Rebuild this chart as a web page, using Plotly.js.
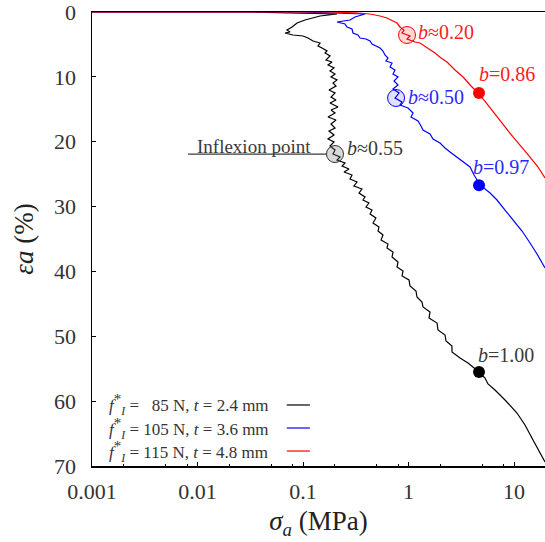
<!DOCTYPE html>
<html>
<head>
<meta charset="utf-8">
<script src="https://cdn.plot.ly/plotly-3.0.1.min.js"></script>
<style>html,body{margin:0;padding:0;background:#fff;}#chart{width:545px;height:542px;}</style>
</head>
<body>
<div id="chart"></div>
<script>
// ---- data ----
const sigmaBlack = [0.001, 0.03, 0.2101, 0.145, 0.1045, 0.0878, 0.0787, 0.0705, 0.0753, 0.0675, 0.0804, 0.1000, 0.1115, 0.1245, 0.1450, 0.1387, 0.1514, 0.1688, 0.1617, 0.1803, 0.1650, 0.1884, 0.1726, 0.1967, 0.1803, 0.2011, 0.1843, 0.2101, 0.1924, 0.2055, 0.1764, 0.2011, 0.1843, 0.2055, 0.1803, 0.2148, 0.1843, 0.2011, 0.1726, 0.2055, 0.1843, 0.2011, 0.1764, 0.1967, 0.1726, 0.1967, 0.1803, 0.2011, 0.1924, 0.2244, 0.2101, 0.2501, 0.2344, 0.2729, 0.2448, 0.2913, 0.2789, 0.325, 0.304, 0.362, 0.339, 0.387, 0.370, 0.422, 0.395, 0.451, 0.432, 0.491, 0.461, 0.525, 0.514, 0.573, 0.549, 0.639, 0.625, 0.713, 0.698, 0.795, 0.778, 0.887, 0.868, 1.011, 1.033, 1.177, 1.203, 1.342, 1.372, 1.599, 1.565, 1.863, 1.904, 2.218, 2.267, 2.582, 2.582, 3.078, 3.666, 4.66, 5.31, 5.67, 6.60, 8.22, 10.67, 12.71, 15.14, 19.67];
const epsBlack = [0, 0, 0.31, 0.62, 1.23, 1.70, 2.31, 2.78, 3.08, 3.24, 3.55, 3.70, 4.01, 4.47, 4.78, 5.24, 5.55, 6.01, 6.32, 6.78, 7.40, 7.71, 8.17, 8.63, 9.10, 9.56, 10.02, 10.48, 10.95, 11.41, 12.03, 12.49, 13.11, 13.57, 14.03, 14.65, 15.11, 15.57, 16.19, 16.65, 17.27, 17.88, 18.35, 18.96, 19.58, 20.04, 20.66, 21.28, 21.89, 22.36, 22.82, 23.28, 23.74, 24.21, 24.67, 25.13, 25.75, 26.21, 26.83, 27.29, 27.91, 28.52, 28.99, 29.45, 30.06, 30.53, 31.14, 31.76, 32.53, 33.15, 33.77, 34.38, 35.15, 35.77, 36.39, 37.0, 37.77, 38.54, 39.32, 39.93, 40.70, 41.32, 42.24, 43.02, 43.94, 44.71, 45.48, 46.25, 47.18, 47.95, 49.03, 49.80, 50.73, 51.50, 52.42, 53.35, 54.12, 55.50, 56.43, 57.35, 58.28, 59.82, 61.83, 63.68, 65.99, 69.38];

const sigmaBlue = [0.001, 0.0937, 0.387, 0.311, 0.2789, 0.2244, 0.2101, 0.2501, 0.2613, 0.2913, 0.2977, 0.332, 0.347, 0.395, 0.432, 0.451, 0.503, 0.537, 0.573, 0.598, 0.639, 0.611, 0.698, 0.668, 0.745, 0.713, 0.795, 0.729, 0.795, 0.713, 0.813, 0.745, 0.867, 0.830, 0.989, 1.104, 1.056, 1.231, 1.313, 1.372, 1.599, 1.707, 1.989, 2.218, 2.474, 2.883, 3.216, 3.830, 4.18, 4.76, 5.93, 6.90, 8.22, 9.79, 11.91, 14.19, 16.52, 19.67];
const epsBlue = [0, 0, 0.31, 0.77, 1.23, 1.39, 1.54, 1.85, 2.31, 2.62, 3.24, 3.55, 4.01, 4.16, 4.47, 4.93, 5.24, 5.55, 6.01, 6.63, 7.09, 7.55, 7.86, 8.48, 8.94, 9.56, 10.02, 10.64, 11.25, 11.87, 12.49, 13.26, 13.88, 14.34, 14.80, 15.57, 16.19, 16.81, 17.58, 18.19, 18.81, 19.58, 20.2, 20.97, 21.58, 22.36, 22.97, 23.9, 25.13, 26.67, 27.91, 28.99, 30.53, 32.07, 33.77, 35.62, 37.31, 39.47];

const sigmaRed = [0.001, 0.1803, 0.311, 0.432, 0.537, 0.625, 0.713, 0.778, 0.830, 0.907, 0.867, 1.033, 0.968, 1.153, 1.285, 1.530, 1.783, 2.033, 2.317, 2.760, 3.287, 3.915, 4.66, 5.67, 6.90, 8.22, 9.79, 11.91, 14.19, 16.88, 19.67];
const epsRed = [0, 0, 0.15, 0.31, 0.62, 0.93, 1.39, 1.70, 2.31, 2.78, 3.24, 3.70, 4.16, 4.63, 4.78, 5.55, 6.32, 7.09, 7.71, 8.94, 10.02, 11.41, 12.64, 14.34, 16.19, 17.73, 19.27, 20.81, 22.36, 23.9, 25.59];

// b markers: [black, blue, red]
const openSigma = [0.201, 0.762, 0.968];
const openEps = [21.9, 13.26, 3.55];
const openLabels = ['<i>b</i>≈0.55', '<i>b</i>≈0.50', '<i>b</i>≈0.20'];
const dotSigma = [4.66, 4.66, 4.66];
const dotEps = [55.5, 26.7, 12.5];
const dotLabels = ['<i>b</i>=1.00', '<i>b</i>=0.97', '<i>b</i>=0.86'];

const STAR = '<sup><span style="font-size:15px">*</span></sup><sub><i>I</i></sub>';
const legendLabels = [
  '<i>f</i>' + STAR + ' = \u200785 N, <i>t</i> = 2.4 mm',
  '<i>f</i>' + STAR + ' = 105 N, <i>t</i> = 3.6 mm',
  '<i>f</i>' + STAR + ' = 115 N, <i>t</i> = 4.8 mm'
];
const inflexionLabel = 'Inflexion point';

const xTickVals = [0.001, 0.01, 0.1, 1, 10];
const xTickText = ['0.001', '0.01', '0.1', '1', '10'];
const xMinorVals = [0.002, 0.005, 0.008, 0.02, 0.05, 0.08, 0.2, 0.5, 0.8, 2, 5, 8];
const yTickVals = [0, 10, 20, 30, 40, 50, 60, 70];

// ---- styling ----
const colors = ['#000000', '#0000ff', '#ff0000'];
const textColors = ['#3a3a3a', '#2a2aff', '#ff2020'];
const openFill = ['rgba(120,120,120,0.28)', 'rgba(0,0,255,0.12)', 'rgba(255,0,0,0.15)'];
const FONT = 'Liberation Serif, DejaVu Serif, serif';

const series = [[sigmaBlack, epsBlack], [sigmaBlue, epsBlue], [sigmaRed, epsRed]];
const traces = series.map((s, i) => ({
  x: s[0], y: s[1], type: 'scatter', mode: 'lines',
  line: {color: colors[i], width: 1.2}, hoverinfo: 'skip', showlegend: false
}));
traces.push({
  x: openSigma, y: openEps, type: 'scatter', mode: 'markers', showlegend: false,
  marker: {size: 17, color: openFill, line: {color: ['#333333', '#0000ff', '#ff0000'], width: 1}}
});
traces.push({
  x: dotSigma, y: dotEps, type: 'scatter', mode: 'markers', showlegend: false,
  marker: {size: 12, color: colors}
});

const openShift = [[10, 6], [10, 1], [9, 3]];
const dotShift = [[-3, 17], [-8, 18], [-2, 19]];
const annotations = [];
for (let i = 0; i < 3; i++) {
  annotations.push({x: Math.log10(openSigma[i]), y: openEps[i], xref: 'x', yref: 'y', text: openLabels[i],
    showarrow: false, xanchor: 'left', yanchor: 'middle', xshift: openShift[i][0], yshift: openShift[i][1],
    font: {family: FONT, size: 20, color: textColors[i]}});
  annotations.push({x: Math.log10(dotSigma[i]), y: dotEps[i], xref: 'x', yref: 'y', text: dotLabels[i],
    showarrow: false, xanchor: 'left', yanchor: 'middle', xshift: dotShift[i][0], yshift: dotShift[i][1],
    font: {family: FONT, size: 20, color: textColors[i]}});
}
annotations.push({x: Math.log10(openSigma[0]), y: openEps[0], xref: 'x', yref: 'y', text: inflexionLabel,
  showarrow: false, xanchor: 'right', yanchor: 'middle', xshift: -22, yshift: 8,
  font: {family: FONT, size: 19, color: '#3a3a3a'}});

const legendY = [0.1344, 0.0837, 0.033];
const shapes = [{type: 'line', xref: 'paper', yref: 'y', x0: 0.212, x1: 0.518,
  y0: openEps[0], y1: openEps[0], line: {color: '#3a3a3a', width: 1.2}}];
for (let i = 0; i < 3; i++) {
  annotations.push({x: 0.033, y: legendY[i], xref: 'paper', yref: 'paper', text: legendLabels[i],
    showarrow: false, xanchor: 'left', yanchor: 'middle',
    font: {family: FONT, size: 17, color: '#333333'}});
  shapes.push({type: 'line', xref: 'paper', yref: 'paper', x0: 0.430, x1: 0.481,
    y0: legendY[i], y1: legendY[i], line: {color: colors[i], width: 1.2}});
}

const layout = {
  width: 545, height: 542,
  margin: {l: 92, r: 0, t: 12, b: 76},
  paper_bgcolor: '#ffffff', plot_bgcolor: '#ffffff',
  font: {family: FONT, color: '#333333'},
  showlegend: false,
  xaxis: {
    type: 'log', range: [-3, 1.2937], tickmode: 'array', tickvals: xTickVals, ticktext: xTickText,
    ticks: 'inside', ticklen: 4, tickwidth: 1, tickcolor: '#000',
    minor: {tickmode: 'array', tickvals: xMinorVals, ticks: 'inside', ticklen: 2, tickcolor: '#000', showgrid: false},
    showline: true, linecolor: '#000', linewidth: 1.5, mirror: true,
    showgrid: false, zeroline: false, automargin: false, ticklabeloverflow: 'allow',
    tickfont: {family: FONT, size: 22, color: '#333333'}, ticklabelstandoff: 5,
    title: {text: '<i>σ</i><sub><i>a</i></sub> (MPa)', font: {family: FONT, size: 27, color: '#222'}, standoff: 8}
  },
  yaxis: {
    range: [70, -0.0001], tickmode: 'array', tickvals: yTickVals,
    ticks: 'inside', ticklen: 4, tickwidth: 1, tickcolor: '#000',
    showline: true, linecolor: '#000', linewidth: 1.5,
    showgrid: false, zeroline: false, automargin: false, ticklabeloverflow: 'allow',
    tickfont: {family: FONT, size: 22, color: '#333333'}, ticklabelstandoff: 10,
    title: {text: '<i>εa</i> (%)', font: {family: FONT, size: 27, color: '#222'}, standoff: 12}
  },
  annotations: annotations,
  shapes: shapes
};

Plotly.newPlot('chart', traces, layout, {staticPlot: true, displayModeBar: false});
</script>
</body>
</html>
